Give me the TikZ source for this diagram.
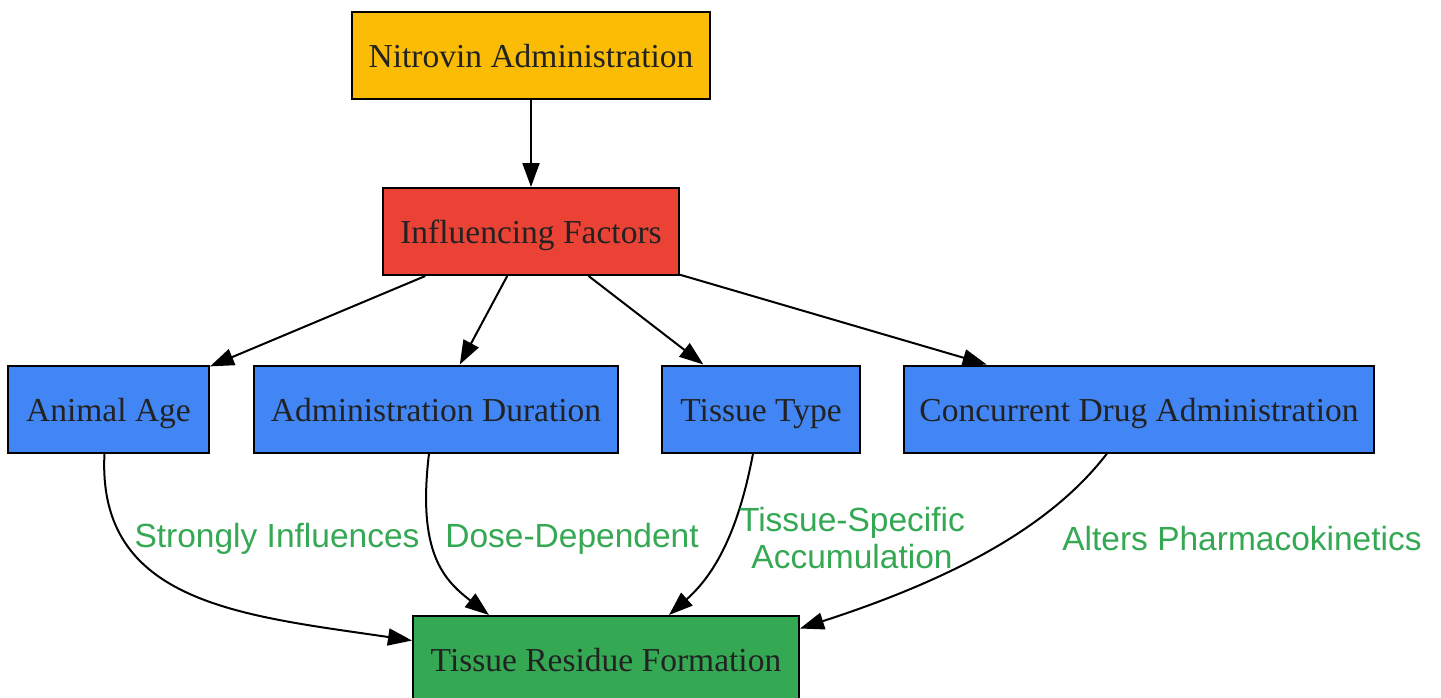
\documentclass[tikz,border=0pt]{standalone}
\usepackage{fontspec}
\setmainfont{Liberation Serif}
\newfontfamily\labelfont{Liberation Sans}
\usetikzlibrary{arrows.meta}
\definecolor{startyellow}{HTML}{FBBC05}
\definecolor{factorred}{HTML}{EA4335}
\definecolor{factorblue}{HTML}{4285F4}
\definecolor{residuegreen}{HTML}{34A853}
\definecolor{textgray}{HTML}{222222}
\tikzstyle{box} = [rectangle, minimum height=87pt, text height=24pt, text depth=0pt, text centered, draw=black, line width=2pt, text=textgray, font=\fontsize{33.5}{40}\selectfont]
\tikzstyle{start} = [box, fill=startyellow]
\tikzstyle{hub} = [box, fill=factorred]
\tikzstyle{factor} = [box, fill=factorblue]
\tikzstyle{result} = [box, fill=residuegreen]
\tikzstyle{edgelabel} = [text=residuegreen, align=center, font=\labelfont\fontsize{33.5}{37.5}\selectfont]
\tikzstyle{arrow} = [line width=2pt,-{Triangle[length=24pt,width=17pt]}]

\begin{document}
\begin{tikzpicture}[x=1pt,y=-1pt] % coordinates in pixels of the picture

    \useasboundingbox (0,0) rectangle (1441,697);

    \node (nitrovin) [start, minimum width=358pt] at (531,55.5) {Nitrovin Administration};
    \node (factors) [hub, minimum width=296pt] at (531,231.5) {Influencing Factors};

    \node (age) [factor, minimum width=201pt] at (108.5,409) {Animal Age};
    \node (duration) [factor, minimum width=364pt] at (436,409) {Administration Duration};
    \node (tissue) [factor, minimum width=198pt] at (761,409) {Tissue Type};
    \node (concurrent) [factor, minimum width=470pt] at (1139,409) {Concurrent Drug Administration};

    \node (residue) [result, minimum width=386pt] at (606,659.5) {Tissue Residue Formation};

    % Flechas
    \draw [arrow] (nitrovin) -- (factors);
    \draw [arrow] (factors) -- (age);
    \draw [arrow] (factors) -- (duration);
    \draw [arrow] (factors) -- (tissue);
    \draw [arrow] (factors) -- (concurrent);

    \draw [arrow] ([xshift=-4pt]age.south) .. controls +(-8,150) and +(-170,-25) .. ([yshift=19pt]residue.west);
    \draw [arrow] ([xshift=-7pt]duration.south) .. controls +(-12,100) and +(-45,-35) .. ([xshift=77pt]residue.north west);
    \draw [arrow] ([xshift=-8pt]tissue.south) .. controls +(-15,80) and +(45,-40) .. ([xshift=257pt]residue.north west);
    \draw [arrow] ([xshift=-32pt]concurrent.south) .. controls +(-50,65) and +(170,-55) .. ([yshift=31pt]residue.east);

    % Etiquetas
    \node (lblage) [edgelabel] at (277,539) {Strongly Influences};
    \node (lblduration) [edgelabel] at (572,539) {Dose-Dependent};
    \node (lbltissue) [edgelabel] at (852,538) {Tissue-Specific\\Accumulation};
    \node (lblconcurrent) [edgelabel] at (1242,539) {Alters Pharmacokinetics};
\end{tikzpicture}
\end{document}
